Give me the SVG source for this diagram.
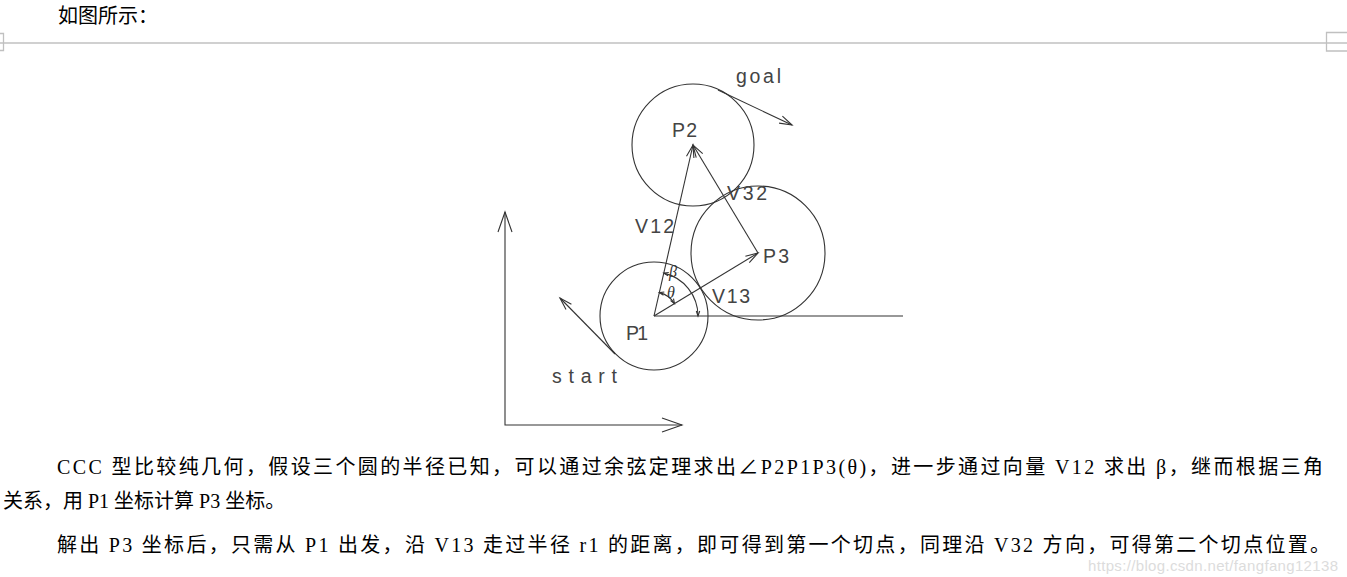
<svg xmlns="http://www.w3.org/2000/svg" width="1347" height="577" viewBox="0 0 1347 577">
<style>
.ln{fill:none;stroke:#333;stroke-width:1.1}
.cad{font-family:"Liberation Sans","DejaVu Sans",sans-serif;font-size:19.5px;fill:#444}
.gr{font-family:"Liberation Serif",serif;font-style:italic;font-size:16px;fill:#333}
.body{font-family:"Liberation Serif","Noto Sans CJK SC",serif;font-size:20px;fill:#000}
.rule{fill:none;stroke:#c0c0c0;stroke-width:1.3}
</style>
<rect width="1347" height="577" fill="#fff"/>
<text class="body" x="58" y="23" textLength="100">如图所示：</text>
<g id="divider">
<line class="rule" x1="0" y1="43" x2="1347" y2="43"/>
<path class="rule" d="M0,33.5 H3.5 V50.5 H0"/>
<path class="rule" d="M1347,32.5 H1326.5 V51 H1347"/>
</g>
<g id="axes">
<polyline class="ln" points="505,212 505,425 682,425"/>
<polyline class="ln" points="498,232 505,212 512,232"/>
<polyline class="ln" points="662,418 682,425 662,432"/>
</g>
<g id="P2">
<circle class="ln" cx="693" cy="145" r="61"/>
<text class="cad" x="672" y="137" textLength="25">P2</text>
</g>
<g id="P3">
<circle class="ln" cx="758" cy="253" r="67"/>
<text class="cad" x="763" y="263" textLength="26">P3</text>
</g>
<g id="P1">
<circle class="ln" cx="654" cy="316" r="54"/>
<text class="cad" x="626" y="340" textLength="22">P1</text>
</g>
<g id="goal">
<text class="cad" x="736" y="83" textLength="45">goal</text>
</g>
<g id="start">
<text class="cad" x="552" y="383" textLength="65">start</text>
</g>
<g id="connectors">
<line class="ln" x1="654" y1="316" x2="903" y2="316"/>
<line class="ln" x1="654" y1="316" x2="693" y2="145"/>
<polyline class="ln" points="686.5,156.3 693,145 693.9,158"/>
<line class="ln" x1="758" y1="253" x2="693" y2="145"/>
<polyline class="ln" points="696.2,157.6 693,145 702.7,153.7"/>
<line class="ln" x1="654" y1="316" x2="758" y2="253"/>
<polyline class="ln" points="745.4,256.2 758,253 749.3,262.7"/>
<line class="ln" x1="718" y1="90" x2="792" y2="125"/>
<polyline class="ln" points="782.4,116.2 792,125 779.1,123.1"/>
<line class="ln" x1="615" y1="354" x2="560" y2="298"/>
<polyline class="ln" points="566,309.5 560,298 571.4,304.2"/>
<path class="ln" d="M663.8,273.1 A44,44 0 0 1 698,316"/>
<polyline class="ln" points="696.3,311 698,316 699.7,311"/>
<polyline class="ln" points="668,275.8 663.8,273.1 668.8,272.5"/>
<path class="ln" d="M659.3,292.6 A24,24 0 0 1 674.5,303.6"/>
<polyline class="ln" points="663.5,295.3 659.3,292.6 664.3,292"/>
<polyline class="ln" points="673.5,298.7 674.5,303.6 670.6,300.5"/>
<text class="cad" x="635" y="233" textLength="39">V12</text>
<text class="cad" x="727" y="200" textLength="40">V32</text>
<text class="cad" x="712" y="303" textLength="38">V13</text>
<text class="gr" x="669" y="277">β</text>
<text class="gr" x="667" y="298">θ</text>
</g>
<g id="paragraph">
<text class="body" x="57" y="474" textLength="1266" lengthAdjust="spacing">CCC 型比较纯几何，假设三个圆的半径已知，可以通过余弦定理求出∠P2P1P3(θ)，进一步通过向量 V12 求出 β，继而根据三角</text>
<text class="body" x="3" y="508">关系，用 P1 坐标计算 P3 坐标。</text>
<text class="body" x="57" y="552" textLength="1273" lengthAdjust="spacing">解出 P3 坐标后，只需从 P1 出发，沿 V13 走过半径 r1 的距离，即可得到第一个切点，同理沿 V32 方向，可得第二个切点位置。</text>
<text x="1088" y="571" textLength="250" style="font-family:'Liberation Sans',sans-serif;font-size:15px;fill:#dcdcdc">https://blog.csdn.net/fangfang12138</text>
</g>
</svg>
